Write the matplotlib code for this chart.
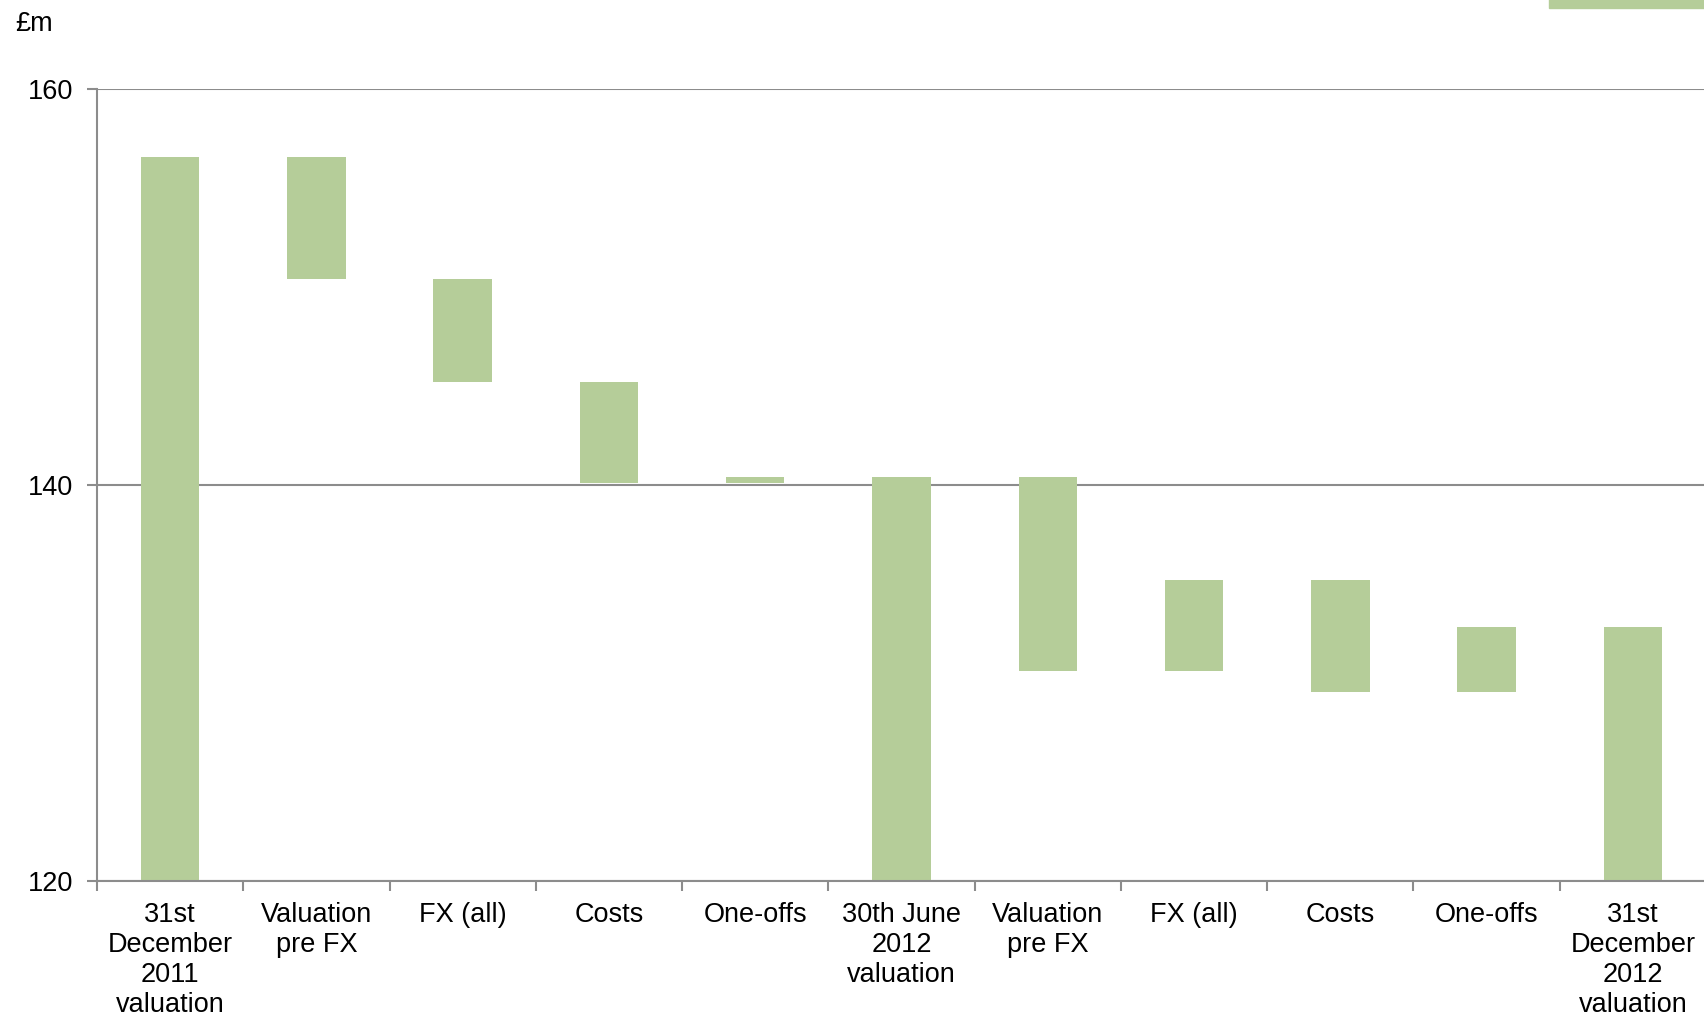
import matplotlib.pyplot as plt
from matplotlib.patches import Rectangle
import numpy as np

plt.rcParams['font.family'] = ['Liberation Sans', 'DejaVu Sans']

# waterfall steps, values in £m
categories = ['31st\nDecember\n2011\nvaluation', 'Valuation\npre FX', 'FX (all)', 'Costs', 'One-offs',
              '30th June\n2012\nvaluation', 'Valuation\npre FX', 'FX (all)', 'Costs', 'One-offs',
              '31st\nDecember\n2012\nvaluation']
start_val = [120, 156.6, 150.4, 145.2, 140.13, 120, 140.42, 130.6, 135.22, 129.53, 120]
end_val = [156.6, 150.4, 145.2, 140.13, 140.42, 140.42, 130.6, 135.22, 129.53, 132.83, 132.83]
y_ticks = [120, 140, 160]

green = '#b5cd99'
grey = '#8c8c8c'
fs = 19.5

fig = plt.figure(figsize=(17.04, 10.19), dpi=100)
ax = fig.add_axes([0.0569, 0.1354, 0.9443, 0.777])

x = np.arange(len(categories))
low = np.minimum(start_val, end_val)
high = np.maximum(start_val, end_val)
ax.bar(x, high - low, bottom=low, width=0.4, color=green, zorder=3)

ax.set_ylim(120, 160)
ax.set_xlim(-0.5, len(categories) - 0.5)
ax.set_yticks(y_ticks)
ax.yaxis.grid(True, color=grey, lw=1.5, zorder=1)

# category ticks sit on the boundaries between bars
ax.set_xticks(np.arange(len(categories) + 1) - 0.5)
ax.set_xticklabels([])
ax.set_xticks(x, minor=True)
ax.set_xticklabels(categories, minor=True, fontsize=fs, linespacing=1.21)
ax.tick_params(axis='x', which='minor', length=0, pad=15)
ax.tick_params(axis='x', which='major', length=7, width=1.5, color=grey, direction='out')
ax.tick_params(axis='y', length=7, width=1.5, color=grey, labelsize=fs, pad=10)

for s in ['top', 'right']:
    ax.spines[s].set_visible(False)
for s in ['left', 'bottom']:
    ax.spines[s].set_color(grey)
    ax.spines[s].set_linewidth(1.5)
ax.spines['bottom'].set_zorder(4)

fig.text(0.009, 0.976, '£m', fontsize=fs, va='center', ha='left')

# legend key cut off at the top right of the original
fig.patches.append(Rectangle((0.909, 0.992), 0.1, 0.01, transform=fig.transFigure,
                             color=green, zorder=5))

fig.savefig('out.png', dpi=100)
